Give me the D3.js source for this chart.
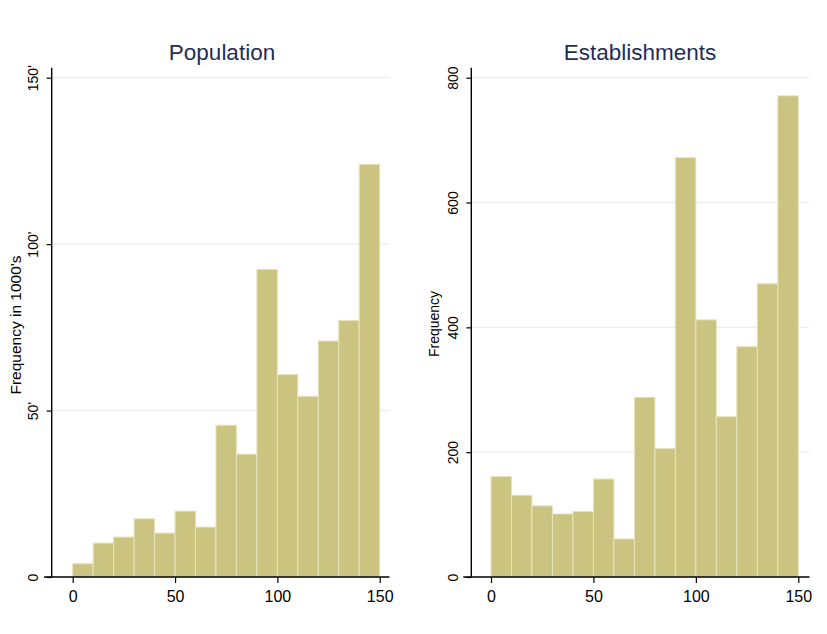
<!DOCTYPE html>
<html>
<head>
<meta charset="utf-8">
<script src="https://cdn.jsdelivr.net/npm/d3@7"></script>
<style>
  html, body { margin: 0; padding: 0; background: #fff; }
  svg { display: block; font-family: "Liberation Sans", Arial, sans-serif; }
</style>
</head>
<body>
<svg id="chart" width="827" height="634"></svg>
<script>
// Histogram bins: lower edges of 10-unit bins from 0 to 150
const binStarts = [0, 10, 20, 30, 40, 50, 60, 70, 80, 90, 100, 110, 120, 130, 140];
const binWidth = 10;

// Population (thousands) per bin
const populationCounts = [4.0, 10.2, 12.0, 17.5, 13.2, 19.8, 15.0, 45.6, 36.9, 92.4, 60.8, 54.3, 70.9, 77.1, 124.0];
// Establishments per bin
const establishmentCounts = [161, 131, 114, 101, 105, 157, 61, 288, 206, 672, 412, 257, 369, 470, 771];

const xTicks = [0, 50, 100, 150];
const popYTicks = [0, 50, 100, 150];
const popYLabels = ["0", "50'", "100'", "150'"];
const estYTicks = [0, 200, 400, 600, 800];
const estYLabels = ["0", "200", "400", "600", "800"];

const panels = [
  { title: "Population", yTitle: "Frequency in 1000's", counts: populationCounts,
    yMax: 150, yTicks: popYTicks, yLabels: popYLabels,
    axisX: 51.7, xLineStart: 44, xLineEnd: 389.5, x0: 72.7, x1: 379.7,
    titleX: 222, yTitleX: 21, yTitleSize: 15.5, yTitleY: 325 },
  { title: "Establishments", yTitle: "Frequency", counts: establishmentCounts,
    yMax: 800, yTicks: estYTicks, yLabels: estYLabels,
    axisX: 471.3, xLineStart: 463.3, xLineEnd: 809.5, x0: 491, x1: 798.3,
    titleX: 640, yTitleX: 439, yTitleSize: 14, yTitleY: 324 }
];

const baseY = 577;
const topY = 77.7;
const axisTop = 67.7;

const barFill = "#cbc480";
const barEdge = "#e7e4bd";
const gridColor = "#e9eef1";
const titleColor = "#1f2d56";

const svg = d3.select("#chart");

panels.forEach(p => {
  const g = svg.append("g");
  const x = d3.scaleLinear().domain([0, 150]).range([p.x0, p.x1]);
  const y = d3.scaleLinear().domain([0, p.yMax]).range([baseY, topY]);

  // horizontal grid lines (skip zero)
  g.append("g").selectAll("line")
    .data(p.yTicks.filter(v => v > 0))
    .join("line")
    .attr("x1", p.axisX).attr("x2", p.xLineEnd)
    .attr("y1", d => y(d)).attr("y2", d => y(d))
    .attr("stroke", gridColor).attr("stroke-width", 1.2);

  // bars
  g.append("g").selectAll("rect")
    .data(p.counts.map((c, i) => ({ start: binStarts[i], count: c })))
    .join("rect")
    .attr("x", d => x(d.start))
    .attr("width", d => x(d.start + binWidth) - x(d.start))
    .attr("y", d => y(d.count))
    .attr("height", d => baseY - y(d.count))
    .attr("fill", barFill)
    .attr("stroke", barEdge)
    .attr("stroke-width", 1);

  // x axis
  const xAxis = d3.axisBottom(x).tickValues(xTicks).tickSize(6).tickSizeOuter(0);
  const gx = g.append("g").attr("transform", `translate(0,${baseY})`).call(xAxis);
  gx.select(".domain").remove();
  gx.selectAll(".tick line").attr("stroke", "#000").attr("stroke-width", 1.2);
  gx.selectAll(".tick text")
    .attr("y", 24.5).attr("dy", 0)
    .attr("fill", "#000")
    .style("font-size", "16px");
  g.append("line")
    .attr("x1", p.xLineStart).attr("x2", p.xLineEnd)
    .attr("y1", baseY).attr("y2", baseY)
    .attr("stroke", "#000").attr("stroke-width", 1.4);

  // y axis
  const yAxis = d3.axisLeft(y).tickValues(p.yTicks)
    .tickFormat((d, i) => p.yLabels[i]).tickSize(5).tickSizeOuter(0);
  const gy = g.append("g").attr("transform", `translate(${p.axisX},0)`).call(yAxis);
  gy.select(".domain").remove();
  gy.selectAll(".tick line").attr("stroke", "#000").attr("stroke-width", 1.2);
  gy.selectAll(".tick text")
    .attr("transform", "rotate(-90)")
    .attr("x", 0).attr("y", -13.7).attr("dy", 0)
    .attr("text-anchor", "middle")
    .attr("fill", "#000")
    .style("font-size", "14px");
  g.append("line")
    .attr("x1", p.axisX).attr("x2", p.axisX)
    .attr("y1", axisTop).attr("y2", baseY)
    .attr("stroke", "#000").attr("stroke-width", 1.4);

  // y axis title
  g.append("text")
    .attr("transform", `translate(${p.yTitleX},${p.yTitleY}) rotate(-90)`)
    .attr("text-anchor", "middle")
    .attr("fill", "#000")
    .style("font-size", p.yTitleSize + "px")
    .text(p.yTitle);

  // panel title
  g.append("text")
    .attr("x", p.titleX).attr("y", 60)
    .attr("text-anchor", "middle")
    .attr("fill", titleColor)
    .style("font-size", "22.5px")
    .text(p.title);
});
</script>
</body>
</html>
